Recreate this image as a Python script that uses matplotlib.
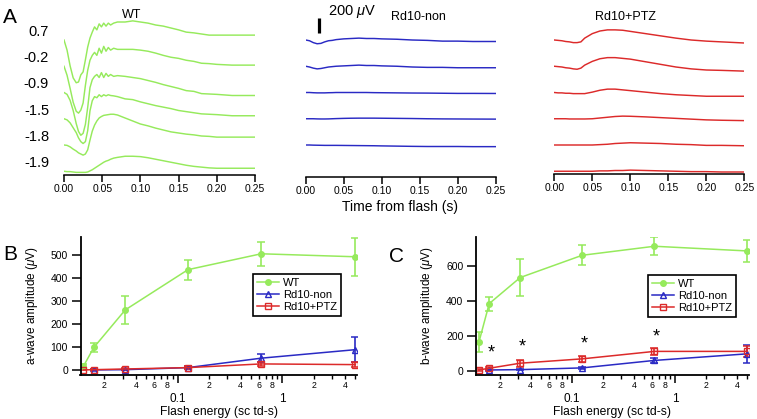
import numpy as np
import matplotlib.pyplot as plt
from matplotlib.ticker import FixedLocator, FuncFormatter
from matplotlib.transforms import offset_copy

plt.rcParams['font.family'] = ['Liberation Sans', 'DejaVu Sans']
plt.rcParams['mathtext.fontset'] = 'custom'
plt.rcParams['mathtext.rm'] = 'Liberation Sans'
plt.rcParams['mathtext.it'] = 'Liberation Sans:italic'

# flash strengths (log sc td-s), dim -> bright
flash_log = [-1.9, -1.8, -1.5, -0.9, -0.2, 0.7]

# ERG traces, uV relative to start of each trace, rows from brightest to dimmest
wt_t = [0, .004, .008, .012, .016, .019, .022, .025, .028, .031, .034, .037, .040, .043, .046,
        .049, .052, .055, .058, .061, .065, .07, .08, .09, .10, .11, .12, .13, .14, .15, .16,
        .17, .18, .19, .20, .22, .25]
wt_uv = [
    [0, -135, -345, -505, -570, -560, -465, -425, -265, -95, 25, 105, 175, 135, 215, 175, 225, 185,
     225, 200, 225, 240, 240, 255, 240, 225, 200, 185, 160, 135, 105, 95, 80, 65, 65, 65, 65],
    [0, -120, -295, -480, -600, -625, -585, -490, -255, -55, 80, 145, 185, 145, 240, 175, 265, 200,
     250, 215, 240, 225, 225, 225, 215, 200, 175, 145, 120, 105, 80, 65, 40, 35, 25, 15, 15],
    [0, -25, -105, -240, -415, -520, -570, -545, -425, -200, 65, 170, 215, 240, 200, 265, 200, 255,
     215, 240, 215, 225, 215, 200, 185, 160, 135, 105, 80, 55, 25, 15, -15, -20, -25, -40, -40],
    [0, -15, -55, -120, -185, -255, -305, -330, -305, -160, 105, 240, 295, 280, 320, 295, 320, 305,
     320, 310, 305, 295, 265, 255, 225, 200, 175, 155, 135, 110, 95, 80, 65, 60, 55, 40, 40],
    [0, -5, -25, -55, -80, -105, -120, -135, -120, -65, 65, 185, 265, 320, 360, 380, 395, 400,
     405, 410, 410, 400, 360, 320, 280, 255, 225, 200, 175, 160, 145, 135, 120, 115, 105, 105, 105],
    [0, -5, -5, -10, -15, -15, -15, -15, -15, -10, 5, 20, 40, 60, 80, 100, 120, 135,
     145, 160, 175, 185, 200, 200, 195, 180, 160, 140, 120, 100, 80, 65, 55, 45, 40, 40, 40],
]

rd_t = [0, .005, .01, .015, .02, .025, .03, .035, .04, .05, .06, .07, .08, .09, .10, .12, .14,
        .16, .18, .20, .22, .25]
non_uv = [
    [0, -10, -35, -50, -45, -25, -10, -5, 5, 15, 20, 25, 20, 20, 15, 10, 0, -5, -15, -15, -20, -20],
    [0, -10, -25, -35, -30, -20, -10, -5, 0, 5, 10, 15, 10, 10, 5, 0, -10, -15, -15, -20, -20, -20],
    [0, 0, -3, -5, -5, -5, -3, -2, 0, 0, 0, 0, 0, -2, -3, -5, -7, -8, -10, -12, -12, -13],
    [0, 0, 0, -2, -3, -3, -2, 0, 2, 5, 7, 8, 8, 8, 7, 5, 3, 0, -2, -3, -4, -5],
    [0, 0, -2, -3, -4, -5, -5, -5, -5, -6, -7, -8, -9, -10, -12, -15, -18, -20, -20, -20, -22, -22],
]
ptz_uv = [
    [0, -5, -10, -20, -25, -35, -35, -25, 25, 85, 120, 135, 135, 130, 115, 85, 55, 25, 0, -15, -25, -40],
    [0, -5, -10, -20, -25, -35, -40, -25, 15, 65, 100, 115, 115, 105, 95, 60, 25, -10, -35, -50, -55, -65],
    [0, -5, -5, -10, -10, -15, -15, -15, -15, 5, 30, 45, 45, 35, 25, 5, -15, -30, -40, -50, -50, -50],
    [0, 0, 0, 0, -3, -3, -3, -3, -3, 0, 10, 20, 30, 35, 33, 25, 15, 5, -5, -15, -20, -25],
    [0, 0, 0, 0, 0, 0, 0, 0, 0, 0, 5, 10, 20, 25, 30, 25, 20, 10, 5, -5, -5, -10],
    [0, 0, 0, 0, 0, 0, 0, 0, 0, 0, 5, 5, 10, 10, 15, 10, 5, 0, -5, -5, -10, -10],
]

# a-wave amplitudes (uV), Rd10-non has no point at the dimmest flash
a_wt = [18, 100, 263, 438, 507, 494]
a_wt_err = [10, 18, 62, 44, 52, 82]
a_non = [2, 3, 12, 53, 90]
a_non_err = [3, 3, 5, 18, 55]
a_ptz = [2, 3, 6, 12, 28, 25]
a_ptz_err = [2, 3, 4, 5, 8, 10]

# b-wave amplitudes (uV)
b_wt = [163, 385, 535, 663, 715, 688]
b_wt_err = [58, 40, 108, 57, 53, 65]
b_non = [3, 5, 15, 58, 96]
b_non_err = [3, 4, 6, 15, 52]
b_ptz = [3, 13, 42, 67, 110, 110]
b_ptz_err = [3, 8, 20, 18, 20, 30]
star_y = [122, 157, 170, 215]

W, H = 757, 419
UV_PX = 200 / 15   # scale bar 200 uV is 15 px
ROW = 350          # spacing of stacked traces, uV

GREEN = '#96ea5c'
BLUE = '#2a2ac4'
RED = '#dc2a2a'

fig = plt.figure(figsize=(W / 100, H / 100), dpi=100)


def rect(l, t, r, b):
    return [l / W, 1 - b / H, (r - l) / W, (b - t) / H]


def ftext(x, y, s, **kw):
    fig.text(x / W, 1 - y / H, s, **kw)


def trace_axes(box, t, rows, color, title, tx, ty):
    l, top, r, b = box
    ax = fig.add_axes(rect(l, top, r, b))
    for i, v in enumerate(rows):
        ax.plot(t, np.array(v) - i * ROW, color=color, lw=1.05, solid_joinstyle='round')
    ymax = 30 * UV_PX
    ax.set_ylim(ymax - (b - top) * UV_PX, ymax)
    ax.set_xlim(0, 0.25)
    ax.set_xticks(np.arange(0, 0.251, 0.05))
    ax.xaxis.set_major_formatter(FuncFormatter(lambda v, p: f'{v:.2f}'))
    ax.set_yticks([])
    for s in ['left', 'right', 'top']:
        ax.spines[s].set_visible(False)
    ax.spines['bottom'].set_linewidth(1.1)
    ax.tick_params(axis='x', direction='out', length=5, width=1.1, pad=1.5, labelsize=7.5)
    ax.patch.set_visible(False)
    ftext(tx, ty, title, ha='center', va='baseline', fontsize=9)
    return ax


axA = trace_axes((64, 10, 255, 175), wt_t, wt_uv, GREEN, 'WT', 132, 17.5)
for i, lg in enumerate(flash_log[::-1]):
    axA.text(-0.0196, -i * ROW + 107, f'{lg:.1f}', ha='right', va='center',
             fontsize=10.5, clip_on=False)

axN = trace_axes((305.7, 10, 495.7, 177), rd_t, non_uv, BLUE, 'Rd10-non', 418, 19.5)
axN.plot([0.0175, 0.0175], [93, 293], color='k', lw=2.3, solid_capstyle='butt')
ftext(328, 15, r'200 $\mu$V', ha='left', va='baseline', fontsize=10.5)
ftext(400, 211, 'Time from flash (s)', ha='center', va='baseline', fontsize=10)

axP = trace_axes((554.3, 10, 744.3, 174), rd_t, ptz_uv, RED, 'Rd10+PTZ', 626, 20.5)


def minor_label(v, p):
    m = int(round(v / 10 ** np.floor(np.log10(v))))
    return str(m) if m in (2, 4, 6, 8) else ''


def amp_axes(box, wt, wt_e, non, non_e, ptz, ptz_e, yticks, ylim, ylabel, ylx, xlx, leg):
    ax = fig.add_axes(rect(*box))
    x = 10.0 ** np.array(flash_log)
    for xs, ys, es, c in [(x, wt, wt_e, GREEN), (x[1:], non, non_e, BLUE), (x, ptz, ptz_e, RED)]:
        ax.errorbar(xs, ys, yerr=es, fmt='none', ecolor=c, elinewidth=1.2, capsize=3, capthick=1.1)
    ax.plot(x, wt, color=GREEN, marker='o', ms=4, lw=1.1, label='WT')
    ax.plot(x[1:], non, color=BLUE, marker='^', ms=4.5, mfc='none', mew=1, lw=1.1, label='Rd10-non')
    ax.plot(x, ptz, color=RED, marker='s', ms=4, mfc='none', mew=1, lw=1.1, label='Rd10+PTZ')

    ax.set_xscale('log')
    ax.set_xlim(0.0118, 5.2)
    ax.xaxis.set_major_locator(FixedLocator([0.1, 1]))
    ax.xaxis.set_major_formatter(FuncFormatter(lambda v, p: f'{v:g}'))
    minors = [m * 10.0 ** e for e in (-2, -1, 0) for m in range(2, 10) if 0.0118 <= m * 10.0 ** e <= 5.2]
    ax.xaxis.set_minor_locator(FixedLocator(minors))
    ax.xaxis.set_minor_formatter(FuncFormatter(minor_label))
    ax.set_ylim(*ylim)
    ax.set_yticks(yticks)
    for s in ['right', 'top']:
        ax.spines[s].set_visible(False)
    for s in ['left', 'bottom']:
        ax.spines[s].set_linewidth(1.3)
    ax.tick_params(axis='x', which='major', direction='out', length=6, width=1.1, pad=7, labelsize=8.5)
    ax.tick_params(axis='x', which='minor', direction='out', length=3, width=1.0, pad=1.5, labelsize=6.3)
    ax.tick_params(axis='y', direction='out', length=6.5, width=1.1, pad=2.5, labelsize=7.5)
    ax.patch.set_visible(False)

    lgd = ax.legend(loc='upper left', bbox_to_anchor=leg, borderaxespad=0, frameon=True,
                    fancybox=False, edgecolor='k', framealpha=1, fontsize=8, handlelength=2.0,
                    handletextpad=0.4, borderpad=0.35, labelspacing=0.2)
    lgd.get_frame().set_linewidth(1.2)

    ftext(ylx, 305.5, ylabel, rotation=90, ha='center', va='center', fontsize=8.5)
    ftext(xlx, 415, 'Flash energy (sc td-s)', ha='center', va='baseline', fontsize=8.7)
    return ax


axB = amp_axes((80.5, 237, 357, 374.5), a_wt, a_wt_err, a_non, a_non_err, a_ptz, a_ptz_err,
               [0, 100, 200, 300, 400, 500], (-18, 580), r'a-wave amplitude ($\mu$V)', 32, 219,
               (0.623, 0.731))
axC = amp_axes((476, 236.7, 749, 374.5), b_wt, b_wt_err, b_non, b_non_err, b_ptz, b_ptz_err,
               [0, 200, 400, 600], (-23, 770), r'b-wave amplitude ($\mu$V)', 427, 612,
               (0.629, 0.722))

xs = 10.0 ** np.array(flash_log)
star_tr = offset_copy(axC.transData, fig=fig, x=1.5, y=-2.5, units='points')
for xv, yv in zip(xs[1:5], star_y):
    axC.text(xv, yv, '*', ha='center', va='center', fontsize=13, transform=star_tr)

ftext(3, 23, 'A', fontsize=15, va='baseline')
ftext(3, 260, 'B', fontsize=15, va='baseline')
ftext(389, 262, 'C', fontsize=15, va='baseline')

fig.savefig('out.png', dpi=100)
